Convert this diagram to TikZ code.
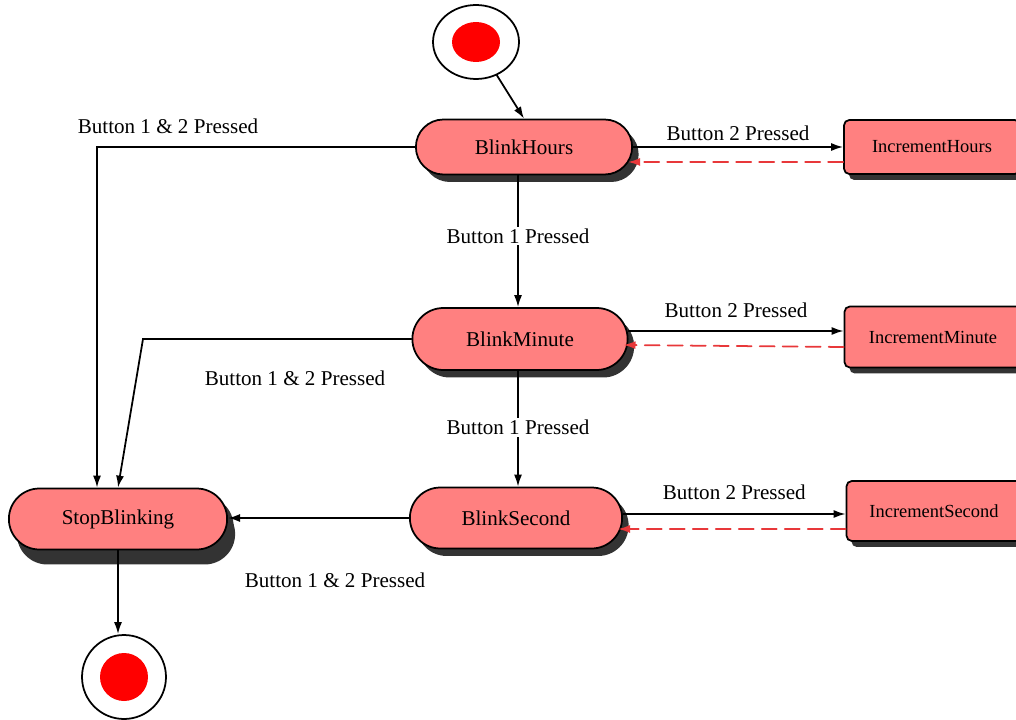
\documentclass[tikz,border=0pt]{standalone}
\usepackage{fontspec}
\setmainfont{Liberation Serif}
\usepackage{tikz}
\usetikzlibrary{arrows.meta,shapes.misc,shapes.geometric,shadows}
\definecolor{statefill}{HTML}{FF8080}
\definecolor{backred}{HTML}{E8383A}

\begin{document}
\begin{tikzpicture}[x=0.02cm,y=-0.02cm,>={Latex[length=2.4mm,width=1.6mm]},font=\fontsize{12}{14}\selectfont,line cap=round,
  state/.style={rounded rectangle,draw,line width=1pt,fill=statefill,minimum height=1.1cm,
    drop shadow={shadow xshift=1.3mm,shadow yshift=-1.5mm,fill=black!80,opacity=1}},
  incbox/.style={rectangle,rounded corners=3pt,draw,line width=1pt,fill=statefill,
    font=\fontsize{10.5}{12}\selectfont,
    drop shadow={shadow xshift=1mm,shadow yshift=-1.2mm,fill=black!80,opacity=1}},
  arr/.style={->,line width=1pt},
  back/.style={->,line width=1pt,backred,dashed,dash pattern=on 3mm off 1.6mm},
  lbl/.style={fill=white,inner sep=1pt}]
\useasboundingbox (0,0) rectangle (1016,719);
\clip (0,0) rectangle (1016,719);
% states
\node[state,minimum width=4.56cm] (hours) at (524,147) {BlinkHours};
\node[state,minimum width=4.54cm,minimum height=1.24cm] (minute) at (520,339) {BlinkMinute};
\node[state,minimum width=4.48cm,minimum height=1.22cm] (second) at (516,518) {BlinkSecond};
\node[state,minimum width=4.6cm,minimum height=1.22cm,
  drop shadow={shadow xshift=1.6mm,shadow yshift=-3mm,fill=black!80,opacity=1}] (stop) at (118,519) {StopBlinking};
\node[incbox,minimum width=3.52cm,minimum height=1.08cm] (inchours) at (932,147) {IncrementHours};
\node[incbox,minimum width=3.54cm,minimum height=1.22cm] (incminute) at (933,337) {IncrementMinute};
\node[incbox,minimum width=3.5cm,minimum height=1.2cm] (incsecond) at (934,511) {IncrementSecond};
% start and end
\node[ellipse,draw,line width=1pt,fill=white,minimum width=1.72cm,minimum height=1.48cm] (init) at (476,42) {};
\fill[red] (init.center) ellipse [x radius=0.48cm,y radius=0.4cm];
\node[circle,draw,line width=1pt,fill=white,minimum size=1.68cm] (final) at (124,677) {};
\fill[red] (final.center) circle [radius=0.48cm];
% transitions
\draw[arr] (init) -- (hours.north);
\draw[arr] (hours.east) -- (hours.east -| inchours.west)
  node[midway,above=0pt] {Button 2 Pressed};
\draw[back] ([yshift=-0.3cm]inchours.west) -- ([yshift=-0.3cm,xshift=-0.1cm]inchours.west -| hours.east);
\draw[arr] ([yshift=0.16cm]minute.east) -- ([yshift=0.16cm]minute.east -| incminute.west)
  node[midway,above=4pt] {Button 2 Pressed};
\draw[back] ([yshift=-0.2cm]incminute.west) -- ([yshift=-0.16cm,xshift=-0.1cm]minute.east |- incminute.west);
\draw[arr] ([yshift=0.08cm]second.east) -- ([yshift=0.08cm]second.east -| incsecond.west)
  node[midway,above=4.5pt] {Button 2 Pressed};
\draw[back] ([yshift=-0.36cm]incsecond.west) -- ([yshift=-0.22cm,xshift=-0.1cm]second.east);
\draw[arr] ([xshift=-0.12cm]hours.south) -- ([xshift=-0.04cm]minute.north)
  node[lbl,pos=0.46] {Button 1 Pressed};
\draw[arr] ([xshift=-0.04cm]minute.south) -- ([xshift=0.04cm]second.north)
  node[lbl,pos=0.49] {Button 1 Pressed};
\draw[arr] (hours.west) -| ([xshift=-0.42cm]stop.north);
\node at (168,126) {Button 1 \& 2 Pressed};
\draw[arr] (minute.west) -- (143,339) -- (stop.north);
\node at (295,378) {Button 1 \& 2 Pressed};
\draw[arr] (second.west) -- (second.west -| stop.east);
\node at (335,580) {Button 1 \& 2 Pressed};
\draw[arr] (stop.south) -- (stop.south |- final.north);
\end{tikzpicture}
\end{document}
